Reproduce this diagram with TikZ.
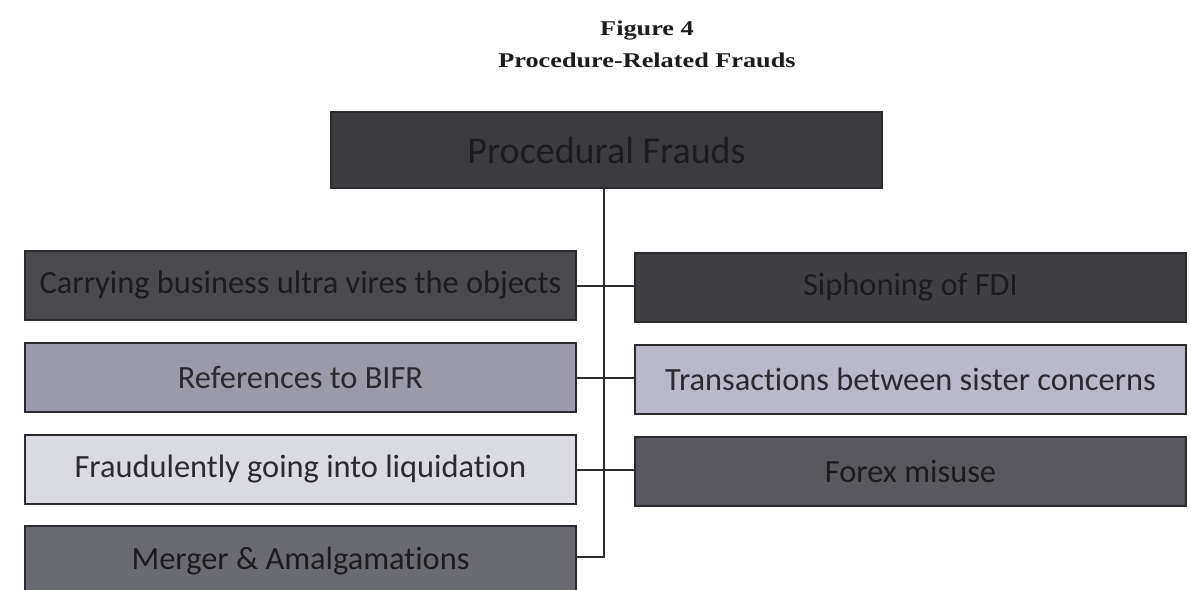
\documentclass[tikz,border=0pt]{standalone}
\usepackage{fontspec}
\setmainfont{Liberation Serif}
\newfontfamily\titlefont[FakeStretch=1.25]{Liberation Serif}
\newfontfamily\boxfont[Ligatures=NoCommon]{Carlito}
\definecolor{topfill}{HTML}{3C3C40}
\definecolor{darkA}{HTML}{4A4A4F}
\definecolor{midA}{HTML}{9A9AA8}
\definecolor{lightA}{HTML}{DADAE2}
\definecolor{midD}{HTML}{6A6A72}
\definecolor{darkB}{HTML}{3F3F44}
\definecolor{lightB}{HTML}{B9B9C9}
\definecolor{midC}{HTML}{58585E}
\definecolor{edge}{HTML}{2A2A2F}
\definecolor{txtdark}{HTML}{1C1C1F}
\definecolor{txtlight}{HTML}{2A2A2F}
\begin{document}
\begin{tikzpicture}[x=1pt,y=-1pt,
  fbox/.style={draw=edge,line width=2pt,minimum width=551pt,minimum height=69pt,inner sep=0pt,anchor=north west,font=\boxfont\fontsize{32.4}{36}\selectfont},
  onDark/.style={text=txtdark},
  onLight/.style={text=txtlight},
  ttl/.style={font=\titlefont\bfseries\fontsize{21}{24}\selectfont,text=txtdark},
  link/.style={draw=edge,line width=2pt}]
\useasboundingbox (0,0) rectangle (1191,589);
\clip (0,0) rectangle (1191,589);
\fill[white] (0,0) rectangle (1191,589);
\node[ttl] (t1) at (647,31) {Figure 4};
\node[ttl] (t2) at (647,60) {Procedure-Related Frauds};
\node[fbox,fill=topfill,onDark,minimum height=76pt,font=\boxfont\fontsize{38}{42}\selectfont] (top) at (330,111) {Procedural Frauds};
\node[fbox,fill=darkA,onDark] (l1) at (24,250) {Carrying business ultra vires the objects};
\node[fbox,fill=midA,onLight] (l2) at (24,342) {References to BIFR};
\node[fbox,fill=lightA,onLight] (l3) at (24,434) {Fraudulently going into liquidation};
\node[fbox,fill=midD,onDark,minimum height=70pt] (l4) at (24,525) {Merger \& Amalgamations};
\node[fbox,fill=darkB,onDark] (r1) at (634,252) {Siphoning of FDI};
\node[fbox,fill=lightB,onLight] (r2) at (634,344) {Transactions between sister concerns};
\node[fbox,fill=midC,onDark] (r3) at (634,436) {Forex misuse};
\coordinate (bend) at (604,557);
\draw[link] (top.south -| bend) -- (bend) -- (bend -| l4.east);
\draw[link] (l1.east) -- (l1.east -| r1.west);
\draw[link] (l2.east) -- (l2.east -| r2.west);
\draw[link] (l3.east) -- (l3.east -| r3.west);
\end{tikzpicture}
\end{document}
